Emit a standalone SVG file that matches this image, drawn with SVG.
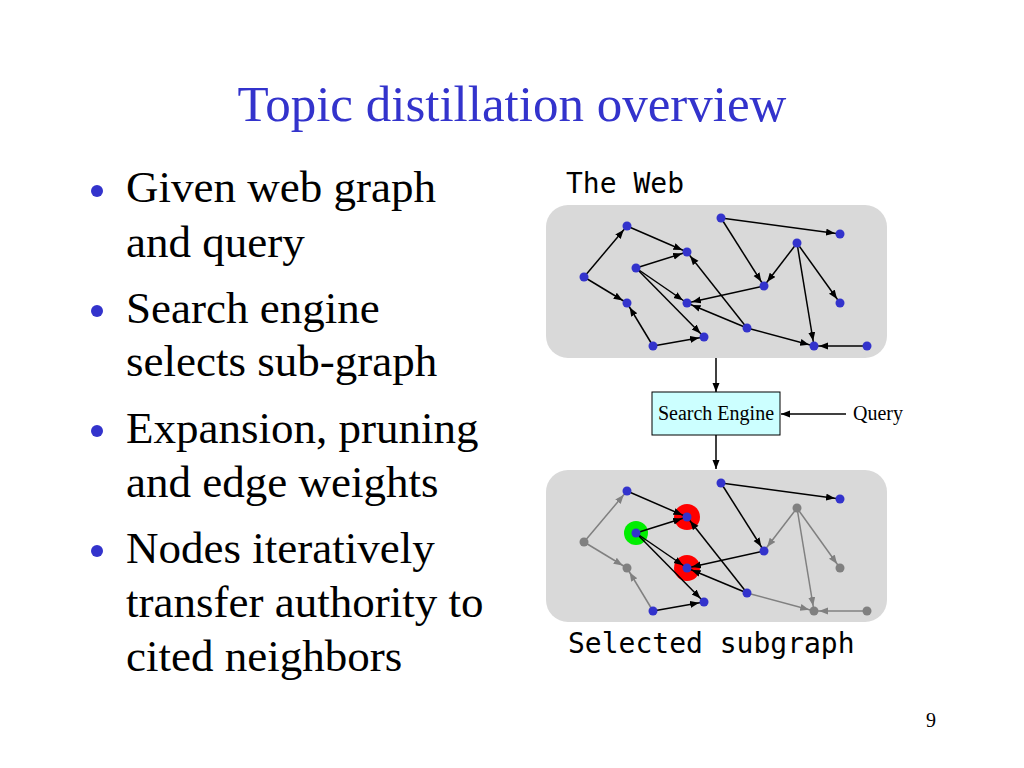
<svg xmlns="http://www.w3.org/2000/svg" width="1024" height="768" viewBox="0 0 1024 768">
<style>
.title{font-family:"Liberation Serif","Times New Roman",serif;font-size:51px;fill:#3333cc}
.bul{font-family:"Liberation Serif","Times New Roman",serif;font-size:45px;fill:#000}
.mono{font-family:"DejaVu Sans Mono",monospace;font-size:28px;fill:#000}
.small{font-family:"Liberation Serif","Times New Roman",serif;font-size:20px;fill:#000}
.pg{font-family:"Liberation Serif","Times New Roman",serif;font-size:20px;fill:#000}
.panel{fill:#d9d9d9}
.e{stroke:#000;stroke-width:1.5;fill:none;marker-end:url(#ah)}
.g{stroke:#808080;stroke-width:1.5;fill:none;marker-end:url(#ahg)}
.b{fill:#3333cc}
.gr{fill:#808080}
.dot{fill:#3333cc}
</style>
<defs>
<marker id="ah" markerUnits="userSpaceOnUse" markerWidth="16" markerHeight="8" refX="14" refY="3.5" orient="auto"><path d="M0,0 L9,3.5 L0,7 z" fill="#000"/></marker>
<marker id="ahg" markerUnits="userSpaceOnUse" markerWidth="16" markerHeight="8" refX="14" refY="3.5" orient="auto"><path d="M0,0 L9,3.5 L0,7 z" fill="#808080"/></marker>
<marker id="ahs" markerUnits="userSpaceOnUse" markerWidth="10" markerHeight="8" refX="9" refY="3.5" orient="auto"><path d="M0,0 L9,3.5 L0,7 z" fill="#000"/></marker>
</defs>
<rect width="1024" height="768" fill="#fff"/>
<text class="title" x="512" y="121" text-anchor="middle">Topic distillation overview</text>
<g id="bullets">
<circle class="dot" cx="97" cy="191" r="6"/>
<circle class="dot" cx="97" cy="311" r="6"/>
<circle class="dot" cx="97" cy="431" r="6"/>
<circle class="dot" cx="97" cy="551" r="6"/>
<text class="bul" x="126" y="202">Given web graph</text>
<text class="bul" x="126" y="257">and query</text>
<text class="bul" x="126" y="323">Search engine</text>
<text class="bul" x="126" y="376">selects sub-graph</text>
<text class="bul" x="126" y="443">Expansion, pruning</text>
<text class="bul" x="126" y="497">and edge weights</text>
<text class="bul" x="126" y="563">Nodes iteratively</text>
<text class="bul" x="126" y="617">transfer authority to</text>
<text class="bul" x="126" y="671">cited neighbors</text>
</g>
<text class="mono" x="566" y="193">The Web</text>
<text class="mono" x="568" y="653">Selected subgraph</text>
<text class="pg" x="926" y="727">9</text>
<g id="web">
<rect class="panel" x="546" y="205" width="341" height="153" rx="22"/>
<g id="web-edges">
<line class="e" x1="584" y1="277" x2="627" y2="226"/>
<line class="e" x1="627" y1="226" x2="687" y2="252"/>
<line class="e" x1="584" y1="277" x2="627" y2="303"/>
<line class="e" x1="636" y1="268" x2="687" y2="252"/>
<line class="e" x1="636" y1="268" x2="687" y2="303"/>
<line class="e" x1="636" y1="268" x2="704" y2="337"/>
<line class="e" x1="653" y1="346" x2="627" y2="303"/>
<line class="e" x1="653" y1="346" x2="704" y2="337"/>
<line class="e" x1="747" y1="328" x2="687" y2="252"/>
<line class="e" x1="747" y1="328" x2="687" y2="303"/>
<line class="e" x1="747" y1="328" x2="814" y2="346"/>
<line class="e" x1="764" y1="286" x2="687" y2="303"/>
<line class="e" x1="721" y1="218" x2="764" y2="286"/>
<line class="e" x1="721" y1="218" x2="840" y2="234"/>
<line class="e" x1="797" y1="243" x2="764" y2="286"/>
<line class="e" x1="797" y1="243" x2="840" y2="303"/>
<line class="e" x1="797" y1="243" x2="814" y2="346"/>
<line class="e" x1="867" y1="346" x2="814" y2="346"/>
</g>
<g id="wA"><circle class="b" cx="584" cy="277" r="4.5"/></g>
<g id="wB"><circle class="b" cx="627" cy="226" r="4.5"/></g>
<g id="wC"><circle class="b" cx="687" cy="252" r="4.5"/></g>
<g id="wD"><circle class="b" cx="636" cy="268" r="4.5"/></g>
<g id="wE"><circle class="b" cx="627" cy="303" r="4.5"/></g>
<g id="wF"><circle class="b" cx="687" cy="303" r="4.5"/></g>
<g id="wG"><circle class="b" cx="704" cy="337" r="4.5"/></g>
<g id="wH"><circle class="b" cx="653" cy="346" r="4.5"/></g>
<g id="wI"><circle class="b" cx="721" cy="218" r="4.5"/></g>
<g id="wJ"><circle class="b" cx="840" cy="234" r="4.5"/></g>
<g id="wK"><circle class="b" cx="797" cy="243" r="4.5"/></g>
<g id="wL"><circle class="b" cx="764" cy="286" r="4.5"/></g>
<g id="wM"><circle class="b" cx="840" cy="303" r="4.5"/></g>
<g id="wN"><circle class="b" cx="747" cy="328" r="4.5"/></g>
<g id="wO"><circle class="b" cx="814" cy="346" r="4.5"/></g>
<g id="wP"><circle class="b" cx="867" cy="346" r="4.5"/></g>
</g>
<g id="search-engine">
<rect x="652" y="392" width="128" height="43" fill="#ccffff" stroke="#000" stroke-width="1"/>
<text class="small" x="716" y="420" text-anchor="middle">Search Engine</text>
</g>
<g id="query"><text class="small" x="853" y="420">Query</text></g>
<g id="flow-connectors">
<line x1="716" y1="358" x2="716" y2="392" stroke="#000" stroke-width="1.5" marker-end="url(#ahs)"/>
<line x1="716" y1="435" x2="716" y2="469" stroke="#000" stroke-width="1.5" marker-end="url(#ahs)"/>
<line x1="846" y1="414" x2="781" y2="414" stroke="#000" stroke-width="1.5" marker-end="url(#ahs)"/>
</g>
<g id="subgraph">
<rect class="panel" x="546" y="470" width="341" height="152" rx="22"/>
<g id="rings">
<circle cx="687" cy="517" r="13" fill="#ff0000"/>
<circle cx="687" cy="568" r="13" fill="#ff0000"/>
<circle cx="636" cy="533" r="12" fill="#00ee00"/>
</g>
<g id="sub-edges" transform="translate(0,265)">
<line class="g" x1="584" y1="277" x2="627" y2="226"/>
<line class="g" x1="584" y1="277" x2="627" y2="303"/>
<line class="g" x1="653" y1="346" x2="627" y2="303"/>
<line class="g" x1="747" y1="328" x2="814" y2="346"/>
<line class="g" x1="797" y1="243" x2="764" y2="286"/>
<line class="g" x1="797" y1="243" x2="840" y2="303"/>
<line class="g" x1="797" y1="243" x2="814" y2="346"/>
<line class="g" x1="867" y1="346" x2="814" y2="346"/>
<line class="e" x1="627" y1="226" x2="687" y2="252"/>
<line class="e" x1="636" y1="268" x2="687" y2="252"/>
<line class="e" x1="636" y1="268" x2="687" y2="303"/>
<line class="e" x1="636" y1="268" x2="704" y2="337"/>
<line class="e" x1="653" y1="346" x2="704" y2="337"/>
<line class="e" x1="747" y1="328" x2="687" y2="252"/>
<line class="e" x1="747" y1="328" x2="687" y2="303"/>
<line class="e" x1="764" y1="286" x2="687" y2="303"/>
<line class="e" x1="721" y1="218" x2="764" y2="286"/>
<line class="e" x1="721" y1="218" x2="840" y2="234"/>
</g>
<g transform="translate(0,265)">
<g id="sA"><circle class="gr" cx="584" cy="277" r="4.5"/></g>
<g id="sB"><circle class="b" cx="627" cy="226" r="4.5"/></g>
<g id="sC"><circle class="b" cx="687" cy="252" r="4.5"/></g>
<g id="sD"><circle class="b" cx="636" cy="268" r="4.5"/></g>
<g id="sE"><circle class="gr" cx="627" cy="303" r="4.5"/></g>
<g id="sF"><circle class="b" cx="687" cy="303" r="4.5"/></g>
<g id="sG"><circle class="b" cx="704" cy="337" r="4.5"/></g>
<g id="sH"><circle class="b" cx="653" cy="346" r="4.5"/></g>
<g id="sI"><circle class="b" cx="721" cy="218" r="4.5"/></g>
<g id="sJ"><circle class="b" cx="840" cy="234" r="4.5"/></g>
<g id="sK"><circle class="gr" cx="797" cy="243" r="4.5"/></g>
<g id="sL"><circle class="b" cx="764" cy="286" r="4.5"/></g>
<g id="sM"><circle class="gr" cx="840" cy="303" r="4.5"/></g>
<g id="sN"><circle class="b" cx="747" cy="328" r="4.5"/></g>
<g id="sO"><circle class="gr" cx="814" cy="346" r="4.5"/></g>
<g id="sP"><circle class="gr" cx="867" cy="346" r="4.5"/></g>
</g>
</g>
</svg>
